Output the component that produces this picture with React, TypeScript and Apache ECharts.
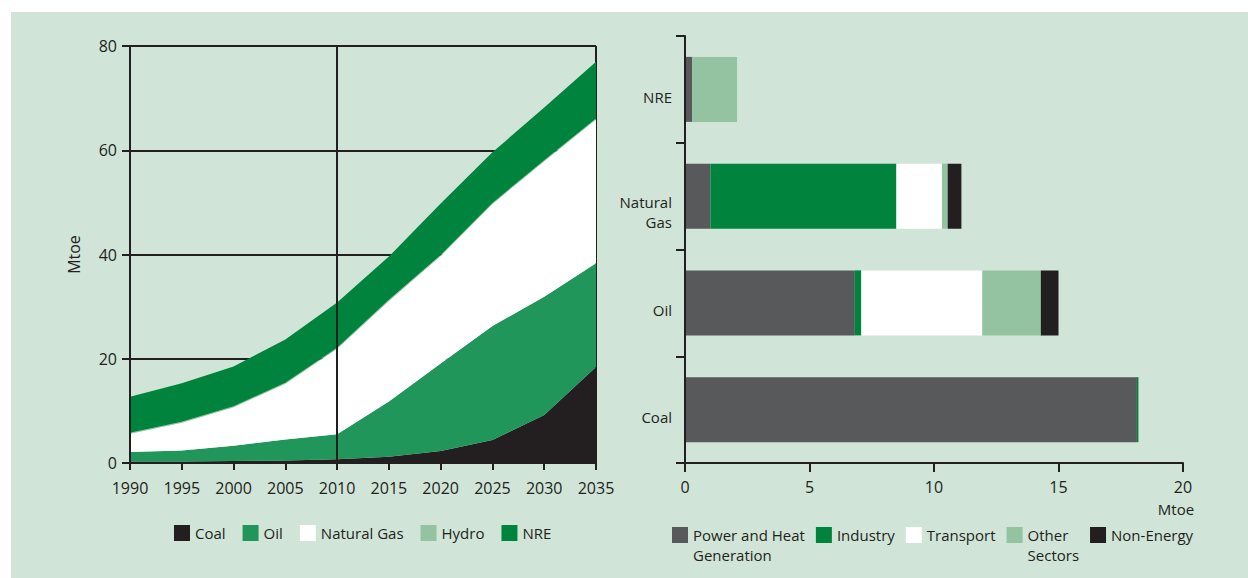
import React, { useEffect, useRef } from 'react';
import * as echarts from 'echarts';

// ---- Left chart: primary energy by fuel (stacked areas, Mtoe)
const years = ['1990', '1995', '2000', '2005', '2010', '2015', '2020', '2025', '2030', '2035'];
const coal = [0.3, 0.3, 0.4, 0.5, 0.7, 1.2, 2.3, 4.4, 9.2, 18.4];
const oil = [1.8, 2.1, 2.9, 4.0, 4.8, 10.6, 16.8, 21.9, 22.7, 19.9];
const naturalGas = [3.5, 5.3, 7.4, 10.7, 16.4, 19.3, 20.6, 23.4, 26.0, 27.6];
const hydro = [0.2, 0.2, 0.2, 0.2, 0.2, 0.2, 0.2, 0.2, 0.2, 0.2];
const nre = [6.9, 7.4, 7.6, 8.3, 8.7, 8.3, 9.9, 9.7, 10.1, 10.9];
const leftTicks = [0, 20, 40, 60, 80];

// ---- Right chart: consumption by sector (stacked bars, Mtoe)
const fuels = ['Coal', 'Oil', 'Natural Gas', 'NRE'];
const powerHeat = [18.15, 6.82, 1.02, 0.29];
const industry = [0.06, 0.26, 7.47, 0];
const transport = [0, 4.86, 1.83, 0];
const otherSectors = [0, 2.35, 0.23, 1.8];
const nonEnergy = [0, 0.71, 0.55, 0];
const rightTicks = [0, 5, 10, 15, 20];

const fuelLabels: Record<string, string[]> = { 'Natural Gas': ['Natural', 'Gas'] };
const sectorLabels: Record<string, string[]> = {
  'Power and Heat Generation': ['Power and Heat', 'Generation'],
  'Other Sectors': ['Other', 'Sectors'],
};

const INK = '#231f20';
const BG = '#d0e5d7';
const C_OIL = '#21965a';
const C_HYDRO = '#93c3a0';
const C_NRE = '#00843d';
const C_POWER = '#58595b';
const FONT = 'Open Sans';

export default function App() {
  const ref = useRef<HTMLDivElement>(null);
  useEffect(() => {
    if (!ref.current) return;
    const chart = echarts.init(ref.current, undefined, { renderer: 'svg' });

    const area = (name: string, data: number[], color: string) => ({
      name,
      type: 'line',
      stack: 'fuel',
      xAxisIndex: 0,
      yAxisIndex: 0,
      data,
      color,
      symbol: 'none',
      showSymbol: false,
      lineStyle: { width: 0, opacity: 0 },
      areaStyle: { color, opacity: 1 },
      z: 2,
    });
    const bar = (name: string, data: number[], color: string) => ({
      name,
      type: 'bar',
      stack: 'sector',
      xAxisIndex: 2,
      yAxisIndex: 2,
      data,
      color,
      barWidth: 65,
      itemStyle: { color },
      z: 2,
    });

    const text15 = { color: INK, fontSize: 15, fontFamily: FONT };
    const num16 = { color: INK, fontSize: 16, fontFamily: FONT };
    const axisLine = { show: true, lineStyle: { color: INK, width: 2 } };

    chart.setOption({
      animation: false,
      backgroundColor: '#ffffff',
      textStyle: { fontFamily: FONT, color: INK },
      graphic: [
        {
          type: 'rect',
          silent: true,
          z: -100,
          shape: { x: 11, y: 12, width: 1237, height: 566 },
          style: { fill: BG },
        },
      ],
      grid: [
        { left: 130, right: 652, top: 46, bottom: 115 },
        { left: 685, right: 65, top: 36, bottom: 115 },
      ],
      xAxis: [
        {
          // grid lines under the areas (right border at 2035)
          gridIndex: 0,
          type: 'category',
          data: years,
          boundaryGap: false,
          z: 0,
          axisLine: { show: false },
          axisTick: { show: false },
          axisLabel: { show: false },
          splitLine: {
            show: true,
            interval: (i: number) => i === years.length - 1,
            lineStyle: { color: INK, width: 2 },
          },
        },
        {
          // visible axis, drawn above the areas (with the 2010 line)
          gridIndex: 0,
          type: 'category',
          data: years,
          boundaryGap: false,
          position: 'bottom',
          z: 10,
          axisLine,
          axisTick: { show: true, length: 7, interval: 0, lineStyle: { color: INK, width: 2 } },
          axisLabel: { ...num16, interval: 0, margin: 17 },
          splitLine: {
            show: true,
            interval: (i: number) => years[i] === '2010',
            lineStyle: { color: INK, width: 2 },
          },
        },
        {
          gridIndex: 1,
          type: 'value',
          min: 0,
          max: 20,
          interval: 5,
          z: 10,
          name: 'Mtoe',
          nameLocation: 'end',
          nameGap: -7,
          nameTextStyle: { ...text15, align: 'center', verticalAlign: 'top', padding: [38, 0, 0, 0] },
          axisLine,
          axisTick: { show: true, length: 9, lineStyle: { color: INK, width: 2 } },
          axisLabel: { ...num16, margin: 16, formatter: (v: number) => (rightTicks.includes(v) ? String(v) : '') },
          splitLine: { show: false },
        },
      ],
      yAxis: [
        {
          gridIndex: 0,
          type: 'value',
          min: 0,
          max: 80,
          interval: 20,
          z: 0,
          axisLine: { show: false },
          axisTick: { show: false },
          axisLabel: { show: false },
          splitLine: { show: true, lineStyle: { color: INK, width: 2 } },
        },
        {
          gridIndex: 0,
          type: 'value',
          min: 0,
          max: 80,
          interval: 20,
          position: 'left',
          z: 10,
          name: 'Mtoe',
          nameLocation: 'middle',
          nameGap: 48,
          nameRotate: 90,
          nameTextStyle: { ...num16 },
          axisLine,
          axisTick: { show: true, length: 8, lineStyle: { color: INK, width: 2 } },
          axisLabel: { ...num16, margin: 13, formatter: (v: number) => (leftTicks.includes(v) ? String(v) : '') },
          splitLine: { show: false },
        },
        {
          gridIndex: 1,
          type: 'category',
          data: fuels,
          z: 10,
          axisLine,
          axisTick: { show: true, length: 9, lineStyle: { color: INK, width: 2 } },
          axisLabel: {
            ...text15,
            margin: 13,
            interval: 0,
            formatter: (v: string) => {
              const lines = fuelLabels[v];
              if (lines) return '{s2| }\n' + lines.map((l) => '{a|' + l + '}').join('\n');
              return '{s1| }\n{a|' + v + '}';
            },
            rich: {
              s1: { lineHeight: 15, fontSize: 10 },
              s2: { lineHeight: 31, fontSize: 10 },
              a: { ...text15, lineHeight: 20 },
            },
          },
          splitLine: { show: false },
        },
      ],
      legend: [
        {
          left: 174,
          top: 525,
          padding: 0,
          itemWidth: 16,
          itemHeight: 16,
          itemGap: 17,
          icon: 'rect',
          selectedMode: false,
          itemStyle: { borderWidth: 0 },
          textStyle: { ...text15 },
          data: ['Coal', 'Oil', 'Natural Gas', 'Hydro', 'NRE'],
        },
        {
          left: 672,
          top: 505,
          padding: 0,
          itemWidth: 16,
          itemHeight: 16,
          itemGap: 11,
          icon: 'rect',
          selectedMode: false,
          itemStyle: { borderWidth: 0 },
          textStyle: { ...text15, lineHeight: 20 },
          formatter: (n: string) => (sectorLabels[n] ? '\n' + sectorLabels[n].join('\n') : n),
          data: ['Power and Heat Generation', 'Industry', 'Transport', 'Other Sectors', 'Non-Energy'],
        },
      ],
      series: [
        area('Coal', coal, INK),
        area('Oil', oil, C_OIL),
        area('Natural Gas', naturalGas, '#ffffff'),
        area('Hydro', hydro, C_HYDRO),
        area('NRE', nre, C_NRE),
        bar('Power and Heat Generation', powerHeat, C_POWER),
        bar('Industry', industry, C_NRE),
        bar('Transport', transport, '#ffffff'),
        bar('Other Sectors', otherSectors, C_HYDRO),
        bar('Non-Energy', nonEnergy, INK),
      ],
    });
    return () => chart.dispose();
  }, []);

  return (
    <div
      ref={ref}
      style={{ position: 'absolute', left: 0, top: 0, width: 1248, height: 578 }}
    />
  );
}
